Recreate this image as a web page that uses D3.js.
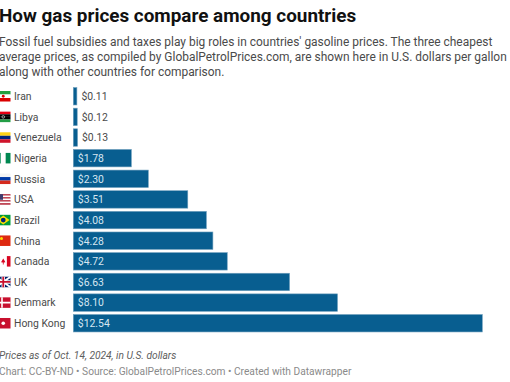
<!DOCTYPE html>
<html><head><meta charset="utf-8">
<script src="https://cdn.jsdelivr.net/npm/d3@7"></script>
<style>
html,body{margin:0;padding:0;background:#fff;overflow:hidden}
text{font-family:Roboto,sans-serif}
</style></head><body><svg id="c" width="510" height="382"></svg>
<script>
const countries=["Iran","Libya","Venezuela","Nigeria","Russia","USA","Brazil","China","Canada","UK","Denmark","Hong Kong"];
const prices=[0.11,0.12,0.13,1.78,2.30,3.51,4.08,4.28,4.72,6.63,8.10,12.54];
const titleText="How gas prices compare among countries";
const subtitleLines=["Fossil fuel subsidies and taxes play big roles in countries' gasoline prices. The three cheapest","average prices, as compiled by GlobalPetrolPrices.com, are shown here in U.S. dollars per gallon","along with other countries for comparison."];
const noteText="Prices as of Oct. 14, 2024, in U.S. dollars";
const sourceText="Chart: CC-BY-ND • Source: GlobalPetrolPrices.com • Created with Datawrapper";
const flagStripes={
 Iran:{dir:"h",c:["#239f40","#fff","#da0000"]},
 Libya:{dir:"h",c:["#e70013","#000","#000","#239e46"]},
 Venezuela:{dir:"h",c:["#fcd116","#00247d","#cf142b"]},
 Nigeria:{dir:"v",c:["#008751","#fff","#008751"]},
 Russia:{dir:"h",c:["#f4f4f4","#0039a6","#d52b1e"]},
 USA:{dir:"h",c:["#b22234","#fff","#b22234","#fff","#b22234","#fff","#b22234"]},
 Brazil:{dir:"h",c:["#009b3a"]},
 China:{dir:"h",c:["#de2910"]},
 Canada:{dir:"v",c:["#d80621","#fff","#fff","#d80621"]},
 UK:{dir:"h",c:["#012169"]},
 Denmark:{dir:"h",c:["#c8102e"]},
 "Hong Kong":{dir:"h",c:["#c8102e"]}
};
const svg=d3.select("#c");
const x=d3.scaleLinear().domain([0,12.54]).range([73.3,482.3]);
const y=d3.scaleBand().domain(countries).range([86.1,333.4]).paddingInner(0.155).paddingOuter(0.07);
svg.append("text").attr("x",-1).attr("y",22).attr("font-size",18.9).attr("font-weight",700).attr("fill","#111").text(titleText);
svg.append("g").selectAll("text").data(subtitleLines).join("text")
 .attr("x",-1).attr("y",(d,i)=>46+i*14.8).attr("font-size",11.95).attr("fill","#4a4a4a").text(d=>d);
const rows=svg.append("g").selectAll("g").data(countries).join("g");
rows.append("rect").attr("x",x(0)).attr("y",d=>y(d)).attr("height",y.bandwidth())
 .attr("width",(d,i)=>x(prices[i])-x(0)).attr("fill","#085e90").attr("stroke","#6f9fbd").attr("stroke-width",0.6);
rows.append("text").attr("font-size",10.4).attr("dominant-baseline","central").attr("y",d=>y(d)+y.bandwidth()/2+0.3)
 .attr("x",(d,i)=>prices[i]<1?x(prices[i])+4.5:x(0)+4.5)
 .attr("fill",(d,i)=>prices[i]<1?"#4a4a4a":"#d6e6f0").text((d,i)=>"$"+d3.format(".2f")(prices[i]));
rows.append("text").attr("x",14).attr("font-size",10.4).attr("fill","#4a4a4a").attr("dominant-baseline","central")
 .attr("y",d=>y(d)+y.bandwidth()/2+0.3).text(d=>d);
// flags
const fx=-4,fw=14.5,fh=10.5;
rows.each(function(d){
 const g=d3.select(this).append("g").attr("transform",`translate(${fx},${y(d)+y.bandwidth()/2-fh/2})`);
 const f=flagStripes[d],n=f.c.length;
 f.c.forEach((col,i)=>g.append("rect")
   .attr("x",f.dir==="v"?i*fw/n:0).attr("y",f.dir==="h"?i*fh/n:0)
   .attr("width",f.dir==="v"?fw/n:fw).attr("height",f.dir==="h"?fh/n:fh).attr("fill",col));
 if(d==="Iran")g.append("circle").attr("cx",fw/2).attr("cy",fh/2).attr("r",1.4).attr("fill","#da0000");
 if(d==="Libya")g.append("circle").attr("cx",fw/2).attr("cy",fh/2).attr("r",1.3).attr("fill","none").attr("stroke","#fff").attr("stroke-width",.6);
 if(d==="USA")g.append("rect").attr("width",7).attr("height",5.6).attr("fill","#3c3b6e");
 if(d==="Brazil"){g.append("path").attr("d",`M${fw/2} .8L${fw-1} ${fh/2}L${fw/2} ${fh-.8}L1 ${fh/2}Z`).attr("fill","#fedf00");
   g.append("circle").attr("cx",fw/2).attr("cy",fh/2).attr("r",2.4).attr("fill","#002776");}
 if(d==="China")g.append("circle").attr("cx",5.5).attr("cy",3).attr("r",1.5).attr("fill","#ffde00");
 if(d==="Canada")g.append("path").attr("d",`M${fw/2} 2.5L${fw/2+2.2} ${fh/2+.8}L${fw/2+.4} ${fh/2+1.2}V${fh-2}H${fw/2-.4}V${fh/2+1.2}L${fw/2-2.2} ${fh/2+.8}Z`).attr("fill","#d80621");
 if(d==="UK"){g.append("path").attr("d",`M0 0L${fw} ${fh}M${fw} 0L0 ${fh}`).attr("stroke","#fff").attr("stroke-width",2);
   g.append("path").attr("d",`M${fw/2} 0V${fh}M0 ${fh/2}H${fw}`).attr("stroke","#fff").attr("stroke-width",3.4);
   g.append("path").attr("d",`M${fw/2} 0V${fh}M0 ${fh/2}H${fw}`).attr("stroke","#c8102e").attr("stroke-width",1.8);}
 if(d==="Denmark")g.append("path").attr("d",`M6 0V${fh}M0 ${fh/2}H${fw}`).attr("stroke","#fff").attr("stroke-width",1.6);
 if(d==="Hong Kong")g.append("circle").attr("cx",fw/2).attr("cy",fh/2).attr("r",1.8).attr("fill","#fff");
});
svg.append("text").attr("x",-1).attr("y",359).attr("font-size",10.2).attr("font-style","italic").attr("fill","#5e5e5e").text(noteText);
svg.append("text").attr("x",-1).attr("y",375).attr("font-size",10.2).attr("fill","#8a8a8a").text(sourceText);
</script></body></html>
